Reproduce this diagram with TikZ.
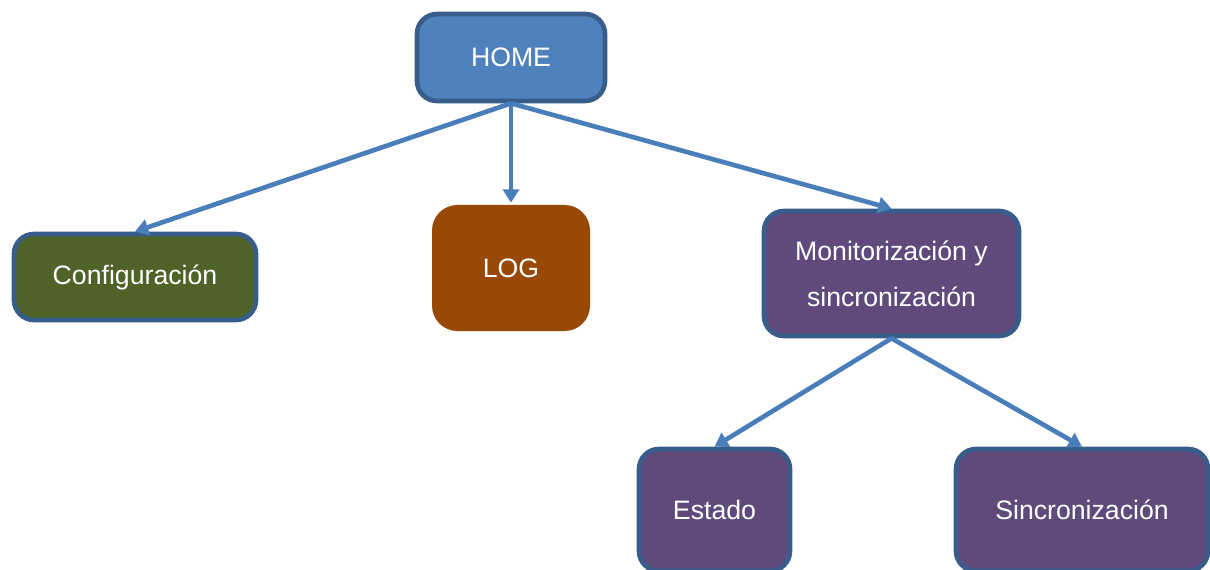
\documentclass[tikz,border=0pt]{standalone}
\usepackage{fontspec}
\setmainfont{Liberation Sans}
\usetikzlibrary{arrows.meta}
\definecolor{homeblue}{HTML}{4F81BD}
\definecolor{edgeblue}{HTML}{385D8A}
\definecolor{oliva}{HTML}{4F6228}
\definecolor{marron}{HTML}{984807}
\definecolor{morado}{HTML}{604A7B}
\definecolor{linkblue}{HTML}{4A7EBB}
\begin{document}
\begin{tikzpicture}[x=0.75pt,y=-0.75pt,
    box/.style={rectangle, rounded corners=15pt, draw=edgeblue, line width=3.5pt,
      text=white, font=\fontsize{20}{34.5}\selectfont, align=center, inner sep=0pt},
    link/.style={linkblue, line width=3.5pt, -{Triangle[length=10pt,width=12pt]}}]
  \useasboundingbox (0,0) rectangle (1210,570);
  \node[box, fill=homeblue, minimum width=141pt, minimum height=65.25pt] (home) at (511,57.5) {HOME};
  \node[box, fill=oliva, minimum width=181.5pt, minimum height=64.5pt] (config) at (135,277) {Configuración};
  \node[box, draw=none, fill=marron, rounded corners=19pt, minimum width=118.5pt, minimum height=94.5pt] (log) at (511,268) {LOG};
  \node[box, fill=morado, minimum width=191.25pt, minimum height=93.75pt] (monit) at (891.5,273.5) {Monitorización y\\sincronización};
  \node[box, fill=morado, minimum width=113.25pt, minimum height=91.5pt] (estado) at (714.5,510) {Estado};
  \node[box, fill=morado, minimum width=189pt, minimum height=91.5pt] (sinc) at (1082,510) {Sincronización};
  \draw[link] (home.south) -- (config.north);
  \draw[link] (home.south) -- (log.north);
  \draw[link] (home.south) -- (monit.north);
  \draw[link] (monit.south) -- (estado.north);
  \draw[link] (monit.south) -- (sinc.north);
\end{tikzpicture}
\end{document}
